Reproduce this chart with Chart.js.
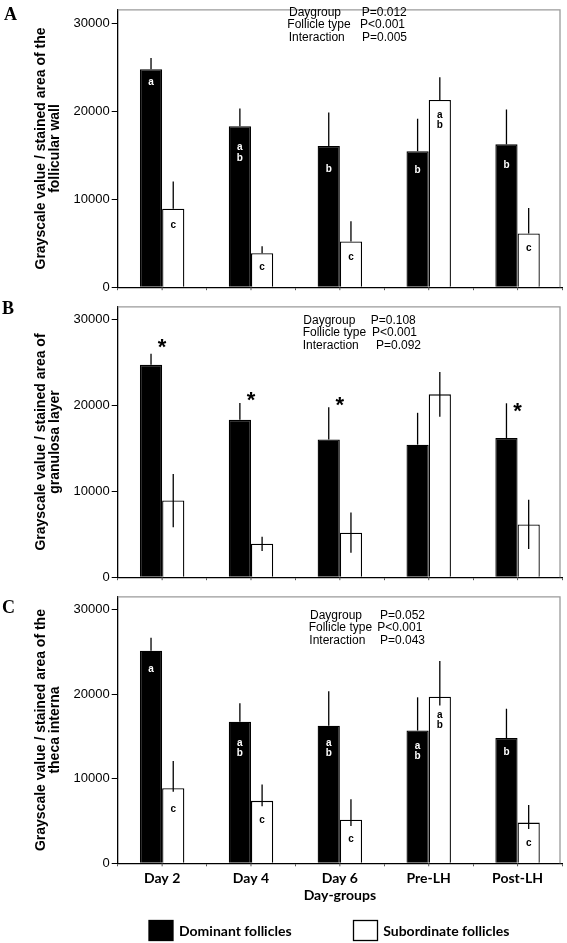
<!DOCTYPE html>
<html lang="en">
<head>
  <meta charset="UTF-8">
  <title>Grayscale value per stained area by day-group</title>
  <script src="https://cdn.jsdelivr.net/npm/chart.js"></script>
  <style>
    body { margin: 0; background: #fff; }
    #wrap { position: relative; width: 567px; height: 943px; }
    canvas { position: absolute; left: 0; }
  </style>
</head>
<body>
  <div id="wrap">
    <canvas id="chartA" width="567" height="297" style="top:0px"></canvas>
    <canvas id="chartB" width="567" height="290" style="top:297px"></canvas>
    <canvas id="chartC" width="567" height="356" style="top:587px"></canvas>
  </div>

  <script>
    // ---- data ----
    const dayGroups = ['Day 2', 'Day 4', 'Day 6', 'Pre-LH', 'Post-LH'];
    const yTicks = [0, 10000, 20000, 30000];
    const seriesNames = ['Dominant follicles', 'Subordinate follicles'];
    const effectNames = ['Daygroup', 'Follicle type', 'Interaction'];

    // A: follicular wall
    const wallDominant = [24760, 18290, 16040, 15450, 16220];
    const wallDominantSE = [1280, 2000, 3810, 3680, 3960];
    const wallSubordinate = [8910, 3850, 5200, 21270, 6110];
    const wallSubordinateSE = [3090, 800, 2290, 2580, 2870];
    const wallDominantLetters = ['a', 'ab', 'b', 'b', 'b'];
    const wallSubordinateLetters = ['c', 'c', 'c', 'ab', 'c'];
    const wallPValues = ['P=0.012', 'P<0.001', 'P=0.005'];

    // B: granulosa layer
    const granDominant = [24740, 18330, 16040, 15440, 16220];
    const granDominantSE = [1300, 1970, 3770, 3710, 4040];
    const granSubordinate = [8930, 3890, 5190, 21300, 6150];
    const granSubordinateSE = [3100, 830, 2350, 2600, 2870];
    const granStars = ['*', '*', '*', '', '*'];
    const granPValues = ['P=0.108', 'P<0.001', 'P=0.092'];

    // C: theca interna
    const thecaDominant = [25120, 16730, 16270, 15690, 14810];
    const thecaDominantSE = [1530, 2190, 4080, 3930, 3460];
    const thecaSubordinate = [8880, 7380, 5150, 19690, 4810];
    const thecaSubordinateSE = [3200, 1930, 2430, 4230, 2070];
    const thecaSubordinateLow = [420, 650, 730, 1040, 770];
    const thecaDominantLetters = ['a', 'ab', 'ab', 'ab', 'b'];
    const thecaSubordinateLetters = ['c', 'c', 'c', 'ab', 'c'];
    const thecaPValues = ['P=0.052', 'P<0.001', 'P=0.043'];

    // ---- layout (where annotations sit, in axis units / px) ----
    const wallDomLetterAt = [23270, 15240, 13380, 13310, 13820];
    const wallSubLetterAt = [7090, 2290, 3450, 18930, 4400];
    const thecaDomLetterAt = [22880, 13570, 13570, 13270, 13150];
    const thecaSubLetterAt = [6420, 5070, 2800, 16880, 2340];
    const granStarAt = [27500, 21300, 20700, null, 20000];

    const SANS = "'Liberation Sans', Arial, sans-serif";
    const LABEL = "Lato, 'Open Sans', sans-serif";

    function decorPlugin(cfg) {
      return {
        id: 'decor',
        beforeDatasetsDraw(chart) {
          const { ctx, chartArea: a } = chart;
          ctx.save();
          ctx.strokeStyle = '#9a9a9a';
          ctx.lineWidth = 1.3;
          ctx.beginPath();
          ctx.moveTo(a.left, a.top);
          ctx.lineTo(a.right - 2, a.top);
          ctx.lineTo(a.right - 2, a.bottom);
          ctx.stroke();
          ctx.restore();
        },
        afterDatasetsDraw(chart) {
          const ctx = chart.ctx;
          const xs = chart.scales.x, ys = chart.scales.y;
          const a = chart.chartArea;
          ctx.save();

          // small ticks at the category centres
          ctx.strokeStyle = '#555';
          ctx.lineWidth = 1;
          dayGroups.forEach((d, i) => {
            const px = xs.getPixelForValue(i);
            ctx.beginPath();
            ctx.moveTo(px, a.bottom);
            ctx.lineTo(px, a.bottom + 3);
            ctx.stroke();
          });

          // error bars
          ctx.strokeStyle = '#000';
          ctx.lineWidth = 1.3;
          chart.data.datasets.forEach((ds, di) => {
            chart.getDatasetMeta(di).data.forEach((bar, i) => {
              const v = ds.data[i];
              const up = ds.errUp ? ds.errUp[i] : 0;
              const down = ds.errDown ? ds.errDown[i] : 0;
              ctx.beginPath();
              ctx.moveTo(bar.x, ys.getPixelForValue(v + up));
              ctx.lineTo(bar.x, ys.getPixelForValue(v - down));
              ctx.stroke();
            });
          });

          // letters in the bars
          ctx.font = 'bold 10px ' + SANS;
          ctx.textAlign = 'center';
          ctx.textBaseline = 'middle';
          (cfg.letters || []).forEach((set, di) => {
            ctx.fillStyle = di === 0 ? '#fff' : '#000';
            const bars = chart.getDatasetMeta(di).data;
            set.text.forEach((t, i) => {
              const chars = t.split('');
              const cy = ys.getPixelForValue(set.at[i]);
              chars.forEach((c, k) => {
                ctx.fillText(c, bars[i].x, cy + (k - (chars.length - 1) / 2) * 10.5);
              });
            });
          });

          // asterisks
          if (cfg.stars) {
            ctx.fillStyle = '#000';
            ctx.font = 'bold 22px ' + SANS;
            ctx.textBaseline = 'alphabetic';
            cfg.stars.text.forEach((s, i) => {
              if (!s) return;
              ctx.fillText(s, xs.getPixelForValue(i), ys.getPixelForValue(cfg.stars.at[i]) + 12.5);
            });
          }

          // p-values
          ctx.fillStyle = '#000';
          ctx.font = '12px ' + SANS;
          ctx.textAlign = 'left';
          ctx.textBaseline = 'middle';
          effectNames.forEach((n, i) => {
            ctx.fillText(n, cfg.p.nameX[i], cfg.p.y[i]);
            ctx.fillText(cfg.p.values[i], cfg.p.valX[i], cfg.p.y[i]);
          });

          // panel letter
          ctx.font = 'bold 18px "Liberation Serif", "Times New Roman", serif';
          ctx.fillText(cfg.panel, cfg.panelPos[0], cfg.panelPos[1]);

          // legend (bottom panel only)
          if (cfg.legend) {
            ctx.font = 'bold 14px ' + LABEL;
            ctx.lineWidth = 1.3;
            chart.data.datasets.forEach((ds, di) => {
              const L = cfg.legend[di];
              ctx.fillStyle = ds.backgroundColor;
              ctx.fillRect(L.box, L.y, 24, 20);
              ctx.strokeStyle = '#000';
              ctx.strokeRect(L.box, L.y, 24, 20);
              ctx.fillStyle = '#000';
              ctx.fillText(ds.label, L.text, L.y + 11);
            });
          }
          ctx.restore();
        }
      };
    }

    function makePanel(id, cfg) {
      return new Chart(document.getElementById(id), {
        type: 'bar',
        data: {
          labels: dayGroups,
          datasets: [
            {
              label: seriesNames[0],
              data: cfg.dom,
              errUp: cfg.domUp,
              errDown: cfg.domDown,
              backgroundColor: '#000',
              borderColor: '#000',
              borderWidth: 1.3
            },
            {
              label: seriesNames[1],
              data: cfg.sub,
              errUp: cfg.subUp,
              errDown: cfg.subDown,
              backgroundColor: '#fff',
              borderColor: '#000',
              borderWidth: 1.3
            }
          ]
        },
        options: {
          responsive: false,
          animation: false,
          devicePixelRatio: 1,
          layout: { padding: { top: cfg.padTop, right: 5, left: 0, bottom: 0 } },
          plugins: { legend: { display: false }, tooltip: { enabled: false } },
          datasets: { bar: { categoryPercentage: 0.5, barPercentage: 1.0 } },
          scales: {
            x: {
              offset: true,
              grid: { display: true, drawOnChartArea: false, tickLength: 3, color: '#555', offset: true },
              border: { display: true, color: '#000', width: 1.3 },
              ticks: {
                display: cfg.showX,
                color: '#000',
                padding: 4,
                font: { family: LABEL, size: 14, weight: 'bold' }
              },
              title: {
                display: cfg.showX,
                text: 'Day-groups',
                color: '#000',
                font: { family: LABEL, size: 14, weight: 'bold', lineHeight: 1.2 },
                padding: { top: 0, bottom: 38.9 }
              },
              afterFit: s => { s.height = cfg.xHeight; }
            },
            y: {
              min: 0,
              max: 31500,
              afterBuildTicks: s => { s.ticks = yTicks.map(v => ({ value: v })); },
              grid: { display: true, drawOnChartArea: false, tickLength: 6, color: '#000' },
              border: { display: true, color: '#000', width: 1.3 },
              ticks: {
                color: '#000',
                padding: 2,
                font: { family: SANS, size: 13 },
                callback: v => String(v)
              },
              title: {
                display: true,
                text: cfg.title,
                color: '#000',
                font: { family: SANS, size: 14, weight: 'bold', lineHeight: 1.0 },
                padding: { top: 34, bottom: 0 }
              },
              afterFit: s => { s.width = 117.7; }
            }
          }
        },
        plugins: [decorPlugin(cfg.decor)]
      });
    }

    makePanel('chartA', {
      dom: wallDominant, domUp: wallDominantSE, domDown: null,
      sub: wallSubordinate, subUp: wallSubordinateSE, subDown: null,
      title: ['Grayscale value / stained area of the', 'follicular wall'],
      padTop: 2, xHeight: 6, showX: false,
      decor: {
        panel: 'A', panelPos: [4, 15],
        letters: [
          { text: wallDominantLetters, at: wallDomLetterAt },
          { text: wallSubordinateLetters, at: wallSubLetterAt }
        ],
        p: { values: wallPValues, nameX: [289, 287.3, 288.7], valX: [361.7, 360, 362], y: [12.3, 25, 37.3] }
      }
    });

    makePanel('chartB', {
      dom: granDominant, domUp: granDominantSE, domDown: null,
      sub: granSubordinate, subUp: granSubordinateSE, subDown: granSubordinateSE,
      title: ['Grayscale value / stained area of', 'granulosa layer'],
      padTop: 2.3, xHeight: 4.3, showX: false,
      decor: {
        panel: 'B', panelPos: [2, 12.3],
        stars: { text: granStars, at: granStarAt },
        p: { values: granPValues, nameX: [303.3, 302.7, 302.7], valX: [370.7, 372, 376], y: [23.7, 35.7, 48.7] }
      }
    });

    makePanel('chartC', {
      dom: thecaDominant, domUp: thecaDominantSE, domDown: null,
      sub: thecaSubordinate, subUp: thecaSubordinateSE, subDown: thecaSubordinateLow,
      title: ['Grayscale value / stained area of the', 'theca interna'],
      padTop: 3, xHeight: 79.7, showX: true,
      decor: {
        panel: 'C', panelPos: [2, 21.3],
        letters: [
          { text: thecaDominantLetters, at: thecaDomLetterAt },
          { text: thecaSubordinateLetters, at: thecaSubLetterAt }
        ],
        p: { values: thecaPValues, nameX: [310, 308.7, 309.3], valX: [380, 377.3, 380], y: [28.3, 40.7, 53.3] },
        legend: [
          { box: 149, text: 179, y: 333.5 },
          { box: 353.5, text: 383.2, y: 333.5 }
        ]
      }
    });
  </script>
</body>
</html>
